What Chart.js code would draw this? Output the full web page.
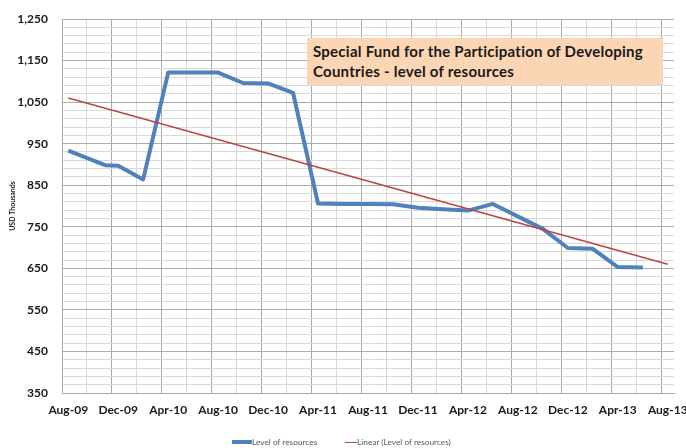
<!DOCTYPE html>
<html>
<head>
<meta charset="utf-8">
<script src="https://cdn.jsdelivr.net/npm/chart.js@4.4.1/dist/chart.umd.min.js"></script>
<style>
html,body{margin:0;padding:0;background:#fff;}
#wrap{position:relative;width:686px;height:448px;overflow:hidden;background:#fff;}
#c{position:absolute;left:0;top:0;}
#titlebox{position:absolute;left:307px;top:38px;width:356px;height:47px;background:#FCD5B5;box-sizing:border-box;padding:3px 0 0 6px;font-family:Lato,sans-serif;font-weight:bold;font-size:15px;letter-spacing:0.25px;line-height:20px;color:#1a1a1a;white-space:nowrap;}
.lg-sw{position:absolute;}
.lg-tx{position:absolute;font-family:Lato,sans-serif;font-size:8.3px;line-height:12px;color:#595959;white-space:nowrap;}
</style>
</head>
<body>
<div id="wrap">
<canvas id="c" width="686" height="448"></canvas>
<div id="titlebox">Special Fund for the Participation of Developing<br>Countries - level of resources</div>
<div id="legend"></div>
</div>
<script>
// ---- data ----
const months = ['Aug-09','Sep-09','Oct-09','Nov-09','Dec-09',
  'Jan-10','Feb-10','Mar-10','Apr-10','May-10','Jun-10','Jul-10','Aug-10','Sep-10','Oct-10','Nov-10','Dec-10',
  'Jan-11','Feb-11','Mar-11','Apr-11','May-11','Jun-11','Jul-11','Aug-11','Sep-11','Oct-11','Nov-11','Dec-11',
  'Jan-12','Feb-12','Mar-12','Apr-12','May-12','Jun-12','Jul-12','Aug-12','Sep-12','Oct-12','Nov-12','Dec-12',
  'Jan-13','Feb-13','Mar-13','Apr-13','May-13','Jun-13','Jul-13','Aug-13'];
const levelMonths = ['Aug-09','Nov-09','Dec-09','Feb-10','Apr-10','Aug-10','Oct-10','Dec-10','Feb-11','Apr-11',
  'Jun-11','Aug-11','Oct-11','Dec-11','Feb-12','Apr-12','Jun-12','Oct-12','Dec-12','Feb-13','Apr-13','Jun-13'];
const levelValues = [933,898,897,864,1121,1121,1096,1095,1072,806,
  805,805,804,796,792,789,805,745,699,697,653,652];
const trendMonths = ['Aug-09','Aug-13'];
const trendValues = [1060,660];
const seriesNames = ['Level of resources','Linear (Level of resources)'];
const yMin = 350, yMax = 1250, yStep = 20, yLabelStep = 100;
const xLabelEvery = 4, xGridEvery = 2;

// ---- styles ----
const majorGrid = '#ABABAB', minorGrid = '#D9D9D9';
const txt = '#1a1a1a';
Chart.defaults.font.family = 'Lato, sans-serif';

const chart = new Chart(document.getElementById('c'), {
  type: 'line',
  data: {
    labels: months,
    datasets: [
      { label: seriesNames[0], data: levelMonths.map((m,i)=>({x:m, y:levelValues[i]})),
        borderColor:'#4F81BD', backgroundColor:'#4F81BD', borderWidth:4, pointRadius:0,
        borderJoinStyle:'round', borderCapStyle:'butt', tension:0, order:1 },
      { label: seriesNames[1], data: trendMonths.map((m,i)=>({x:m, y:trendValues[i]})),
        borderColor:'#B94643', backgroundColor:'#B94643', borderWidth:1.5, pointRadius:0, tension:0, order:0 }
    ]
  },
  options: {
    responsive:false, animation:false, events:[],
    layout:{ padding:{ top:19, right:12, bottom:0, left:0 } },
    plugins:{ legend:{display:false}, tooltip:{enabled:false}, title:{display:false} },
    scales:{
      x:{
        type:'category', offset:true,
        grid:{ offset:true, drawTicks:false,
          color: c => (c.index === undefined) ? 'rgba(0,0,0,0)' : (c.index % xLabelEvery === 0 ? majorGrid : (c.index % xGridEvery === 0 ? minorGrid : 'rgba(0,0,0,0)')) },
        border:{ color: majorGrid },
        ticks:{ autoSkip:false, maxRotation:0, minRotation:0, padding:10, color:txt,
          font:{ size:12, weight:'bold' },
          callback: function(v,i){ return i % xLabelEvery === 0 ? this.getLabelForValue(v) : ''; } },
        afterFit: s => { s.paddingLeft = 0; s.paddingRight = 0; s.height = 55; }
      },
      y:{
        min:yMin, max:yMax,
        grid:{ drawTicks:false, color: c => ((c.tick.value - yMin) % yLabelStep === 0) ? majorGrid : minorGrid },
        border:{ color: majorGrid },
        ticks:{ stepSize:yStep, autoSkip:false, padding:14, color:txt, font:{ size:12, weight:'bold' },
          callback: v => ((v - yMin) % yLabelStep === 0) ? v.toLocaleString('en-US') : '' },
        title:{ display:true, text:'USD Thousands', color:txt, font:{ size:7, weight:'bold' }, padding:{ top:9, bottom:0 } },
        afterFit: s => { s.width = 62; s.paddingTop = 0; s.paddingBottom = 0; }
      }
    }
  }
});

// ---- legend (built from the chart's datasets) ----
const legendPos = [ {sw:232, swW:20, tx:252}, {sw:345, swW:12, tx:357} ];
const legendY = 442.3;
const lg = document.getElementById('legend');
chart.data.datasets.forEach((ds, i) => {
  const p = legendPos[i];
  const sw = document.createElement('div');
  sw.className = 'lg-sw';
  const h = Math.max(1.5, ds.borderWidth);
  sw.style.cssText = `left:${p.sw}px;top:${legendY - h/2}px;width:${p.swW}px;height:${h}px;background:${ds.borderColor};`;
  const tx = document.createElement('div');
  tx.className = 'lg-tx';
  tx.style.cssText = `left:${p.tx}px;top:${legendY - 6}px;`;
  tx.textContent = ds.label;
  lg.appendChild(sw); lg.appendChild(tx);
});
</script>
</body>
</html>
